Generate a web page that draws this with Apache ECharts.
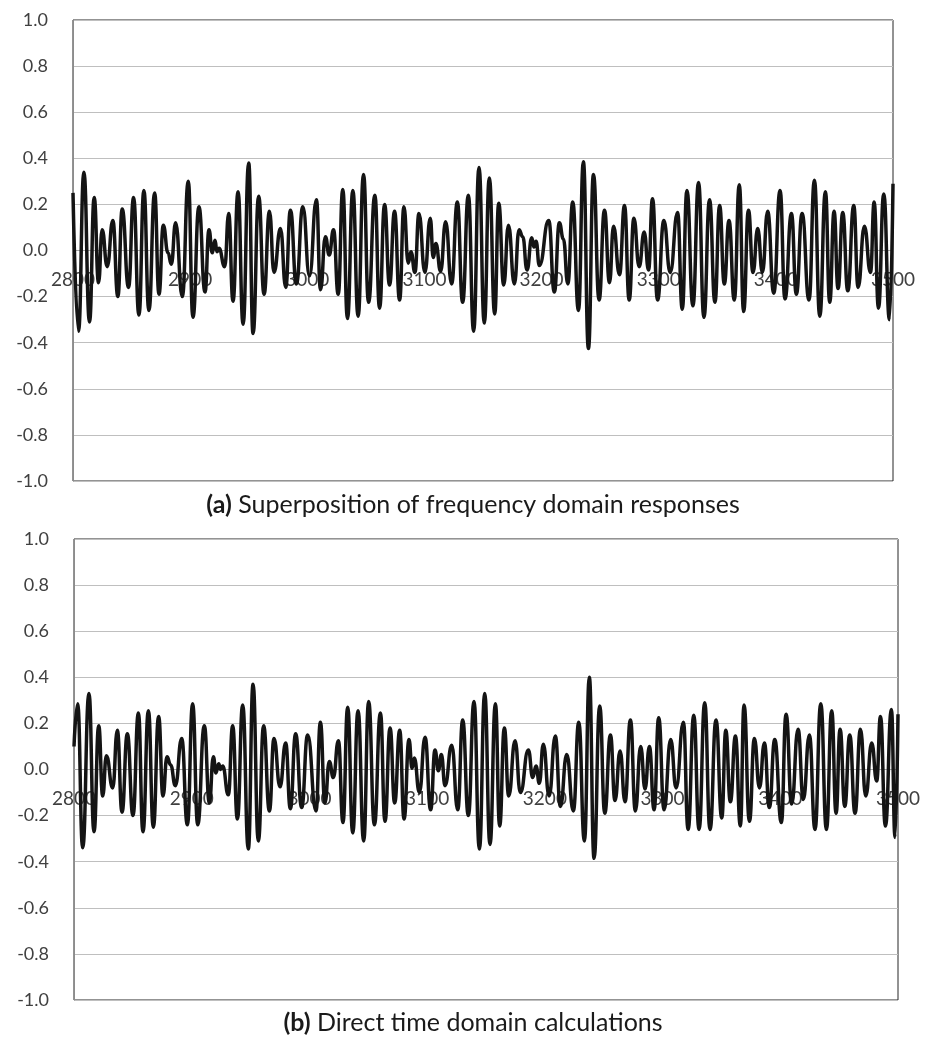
<!DOCTYPE html>
<html>
<head>
<meta charset="utf-8">
<script src="https://cdn.jsdelivr.net/npm/echarts@6/dist/echarts.min.js"></script>
<style>
  html, body { margin: 0; padding: 0; background: #fff; }
  #chart { width: 928px; height: 1044px; }
</style>
</head>
<body>
<div id="chart"></div>
<script>
// (a) superposition of frequency domain responses: time / response at the turning points
const timeA = [2800, 2804.7, 2809.3, 2814.1, 2818.1, 2821.8, 2824.9, 2829.2, 2834.0, 2838.3, 2842.0, 2847.4, 2851.7, 2856.3, 2860.5, 2864.8, 2869.7, 2873.4, 2877.1, 2881.1, 2883.9, 2887.6, 2893.3, 2898.4, 2902.4, 2907.5, 2912.7, 2916.1, 2918.9, 2921.2, 2922.9, 2924.6, 2929.5, 2932.9, 2936.6, 2940.9, 2945.2, 2950.0, 2953.7, 2958.5, 2963.1, 2967.7, 2971.6, 2977.1, 2981.6, 2985.6, 2990.7, 2996.2, 3001.9, 3007.8, 3011.3, 3015.5, 3018.7, 3022.4, 3026.4, 3030.3, 3034.3, 3038.9, 3043.4, 3048.0, 3052.3, 3057.7, 3061.7, 3066.0, 3070.2, 3074.5, 3078.8, 3082.5, 3086.2, 3088.5, 3091.9, 3095.3, 3100.4, 3105.0, 3107.5, 3109.8, 3113.8, 3118.1, 3123.2, 3128.1, 3132.6, 3137.5, 3142.0, 3146.6, 3151.1, 3155.4, 3160.0, 3163.4, 3167.7, 3171.7, 3176.8, 3180.8, 3183.9, 3187.6, 3191.6, 3193.5, 3195.3, 3198.1, 3206.1, 3210.9, 3215.2, 3218.6, 3222.4, 3226.6, 3231.5, 3235.7, 3240.0, 3244.3, 3249.1, 3253.7, 3258.0, 3261.4, 3266.5, 3270.8, 3274.8, 3278.8, 3283.3, 3287.6, 3291.3, 3294.7, 3299.0, 3304.4, 3309.8, 3316.1, 3320.1, 3324.1, 3329.2, 3334.0, 3338.6, 3343.4, 3348.0, 3352.0, 3356.0, 3360.0, 3364.5, 3368.8, 3372.5, 3376.6, 3380.5, 3384.5, 3388.5, 3393.0, 3398.2, 3403.6, 3407.8, 3413.3, 3417.5, 3422.4, 3428.3, 3432.9, 3437.5, 3442.3, 3446.0, 3449.7, 3453.1, 3457.1, 3461.4, 3466.5, 3470.2, 3475.6, 3480.8, 3483.9, 3487.6, 3492.1, 3497.0, 3500];
const respA = [0.25, -0.35, 0.34, -0.31, 0.23, -0.14, 0.09, -0.07, 0.13, -0.20, 0.18, -0.16, 0.23, -0.28, 0.26, -0.26, 0.25, -0.19, 0.11, -0.01, -0.06, 0.12, -0.20, 0.30, -0.29, 0.19, -0.18, 0.09, -0.01, 0.045, -0.005, 0.01, -0.07, 0.16, -0.22, 0.255, -0.32, 0.38, -0.36, 0.235, -0.19, 0.17, -0.095, 0.095, -0.16, 0.175, -0.145, 0.19, -0.11, 0.22, -0.17, 0.06, -0.02, 0.09, -0.19, 0.265, -0.295, 0.26, -0.285, 0.33, -0.225, 0.24, -0.25, 0.20, -0.15, 0.17, -0.215, 0.19, -0.055, -0.005, -0.095, 0.16, -0.095, 0.14, -0.03, 0.03, -0.09, 0.125, -0.145, 0.21, -0.225, 0.24, -0.35, 0.36, -0.315, 0.315, -0.275, 0.205, -0.15, 0.11, -0.145, 0.09, 0.06, -0.085, 0.055, 0.015, 0.04, -0.065, 0.13, -0.18, 0.12, 0.05, -0.145, 0.21, -0.26, 0.385, -0.425, 0.33, -0.215, 0.175, -0.14, 0.105, -0.105, 0.195, -0.215, 0.14, -0.07, 0.08, -0.085, 0.225, -0.215, 0.13, -0.095, 0.165, -0.255, 0.26, -0.24, 0.295, -0.29, 0.22, -0.225, 0.195, -0.145, 0.13, -0.215, 0.285, -0.265, 0.175, -0.095, 0.095, -0.095, 0.17, -0.185, 0.26, -0.21, 0.16, -0.19, 0.16, -0.215, 0.305, -0.285, 0.255, -0.225, 0.17, -0.165, 0.165, -0.175, 0.195, -0.16, 0.105, -0.095, 0.21, -0.25, 0.245, -0.30, 0.29];

// (b) direct time domain calculations
const timeB = [2800, 2803.1, 2807.4, 2812.7, 2817.0, 2821.0, 2824.4, 2827.5, 2832.9, 2836.8, 2840.8, 2845.3, 2850.1, 2854.7, 2858.6, 2863.2, 2867.4, 2871.9, 2875.6, 2879.0, 2882.1, 2886.1, 2891.5, 2896.3, 2900.8, 2905.1, 2910.7, 2915.0, 2918.4, 2920.6, 2922.9, 2924.6, 2926.3, 2931.1, 2934.8, 2938.8, 2943.3, 2948.1, 2952.1, 2956.6, 2961.1, 2966.0, 2969.9, 2975.0, 2979.8, 2983.8, 2988.3, 2993.4, 2998.5, 3005.6, 3009.3, 3013.2, 3016.9, 3020.3, 3024.6, 3028.5, 3032.5, 3036.8, 3041.3, 3046.1, 3050.3, 3055.2, 3060.3, 3064.2, 3068.5, 3072.4, 3076.7, 3080.4, 3084.6, 3087.2, 3089.1, 3093.4, 3098.2, 3103.0, 3106.7, 3109.5, 3112.1, 3115.2, 3120.9, 3126.0, 3130.2, 3135.0, 3139.8, 3144.4, 3148.9, 3153.4, 3158.0, 3161.6, 3165.6, 3169.3, 3174.7, 3179.2, 3186.0, 3189.7, 3192.5, 3195.3, 3198.7, 3203.6, 3208.9, 3213.2, 3218.6, 3224.2, 3228.8, 3233.6, 3237.8, 3241.8, 3246.6, 3250.9, 3255.7, 3259.6, 3263.9, 3268.1, 3272.7, 3276.9, 3281.4, 3285.1, 3288.8, 3292.8, 3296.7, 3301.3, 3306.9, 3311.5, 3317.7, 3321.7, 3326.5, 3331.0, 3335.8, 3340.3, 3345.4, 3350.3, 3353.7, 3357.6, 3361.9, 3366.1, 3369.2, 3373.8, 3378.0, 3382.3, 3386.5, 3390.7, 3395.3, 3400.9, 3404.9, 3409.7, 3415.1, 3419.6, 3424.7, 3429.5, 3434.4, 3439.2, 3443.7, 3447.4, 3450.8, 3454.8, 3459.0, 3463.5, 3468.1, 3472.6, 3477.7, 3481.9, 3485.1, 3489.3, 3494.4, 3497.5, 3500];
const respB = [0.10, 0.285, -0.34, 0.33, -0.27, 0.19, -0.115, 0.06, -0.08, 0.17, -0.185, 0.155, -0.20, 0.245, -0.27, 0.255, -0.25, 0.23, -0.115, 0.055, 0.02, -0.07, 0.135, -0.24, 0.285, -0.24, 0.19, -0.145, 0.055, -0.015, 0.025, 0.0, 0.015, -0.11, 0.19, -0.215, 0.28, -0.345, 0.37, -0.31, 0.19, -0.18, 0.135, -0.075, 0.115, -0.17, 0.155, -0.165, 0.15, -0.18, 0.205, -0.145, 0.035, -0.035, 0.125, -0.23, 0.27, -0.275, 0.255, -0.31, 0.295, -0.24, 0.245, -0.225, 0.18, -0.145, 0.17, -0.215, 0.13, 0.005, 0.05, -0.10, 0.14, -0.175, 0.085, -0.005, 0.065, -0.07, 0.105, -0.175, 0.215, -0.20, 0.295, -0.345, 0.33, -0.325, 0.285, -0.245, 0.18, -0.115, 0.125, -0.10, 0.085, -0.035, 0.015, -0.06, 0.11, -0.115, 0.145, -0.16, 0.065, -0.18, 0.205, -0.31, 0.40, -0.385, 0.275, -0.19, 0.15, -0.135, 0.08, -0.14, 0.215, -0.18, 0.10, -0.085, 0.10, -0.175, 0.225, -0.175, 0.13, -0.08, 0.205, -0.26, 0.235, -0.26, 0.29, -0.26, 0.215, -0.21, 0.17, -0.14, 0.145, -0.245, 0.28, -0.225, 0.135, -0.08, 0.115, -0.165, 0.13, -0.23, 0.24, -0.15, 0.175, -0.13, 0.15, -0.26, 0.285, -0.26, 0.255, -0.19, 0.175, -0.16, 0.15, -0.19, 0.175, -0.115, 0.115, -0.05, 0.23, -0.245, 0.26, -0.295, 0.24];

const captions = ['{b|(a)} Superposition of frequency domain responses', '{b|(b)} Direct time domain calculations'];

const font = 'Lato, "Open Sans", sans-serif';
const plotHeight = 461;

function pairs(xs, ys) {
  return xs.map((x, i) => [x, ys[i]]);
}

function xAxisFor(gridIndex) {
  return {
    gridIndex: gridIndex,
    type: 'value',
    min: 2800,
    max: 3500,
    interval: 100,
    position: 'bottom',
    // sit on the 0.0 line, labels hang below it
    offset: -plotHeight / 2,
    axisLine: { onZero: false, lineStyle: { color: '#a6a6a6', width: 1 } },
    axisTick: { show: false },
    splitLine: { show: false },
    axisLabel: {
      color: '#404040', fontSize: 19, fontFamily: font, margin: 20,
      formatter: v => String(v)
    }
  };
}

function yAxisFor(gridIndex) {
  return {
    gridIndex: gridIndex,
    type: 'value',
    min: -1,
    max: 1,
    interval: 0.2,
    axisLine: { show: true, lineStyle: { color: '#8c8c8c', width: 1 } },
    axisTick: { show: false },
    splitLine: { show: true, lineStyle: { color: '#bfbfbf', width: 1 } },
    axisLabel: {
      color: '#404040', fontSize: 18, fontFamily: font, margin: 25,
      formatter: v => v.toFixed(1)
    }
  };
}

function seriesFor(idx, data) {
  return {
    type: 'line',
    xAxisIndex: idx,
    yAxisIndex: idx,
    data: data,
    showSymbol: false,
    smooth: 0.5,
    smoothMonotone: 'x',
    lineStyle: { color: '#141414', width: 3.5 },
    animation: false
  };
}

let chart = echarts.init(document.getElementById('chart'));
let options = {
  backgroundColor: '#fff',
  animation: false,
  title: captions.map((t, i) => ({
    text: t,
    left: 468,
    top: i === 0 ? 487 : 1005,
    textAlign: 'center',
    textStyle: {
      fontSize: 25,
      fontWeight: 'normal',
      color: '#1a1a1a',
      fontFamily: font,
      rich: { b: { fontSize: 25, fontWeight: 'bold', color: '#1a1a1a', fontFamily: font } }
    }
  })),
  grid: [
    { left: 73, top: 20, width: 820, height: plotHeight, show: true, borderColor: '#262626', borderWidth: 1 },
    { left: 74, top: 539, width: 824, height: plotHeight, show: true, borderColor: '#262626', borderWidth: 1 }
  ],
  xAxis: [xAxisFor(0), xAxisFor(1)],
  yAxis: [yAxisFor(0), yAxisFor(1)],
  series: [seriesFor(0, pairs(timeA, respA)), seriesFor(1, pairs(timeB, respB))]
};
chart.setOption(options);
</script>
</body>
</html>
